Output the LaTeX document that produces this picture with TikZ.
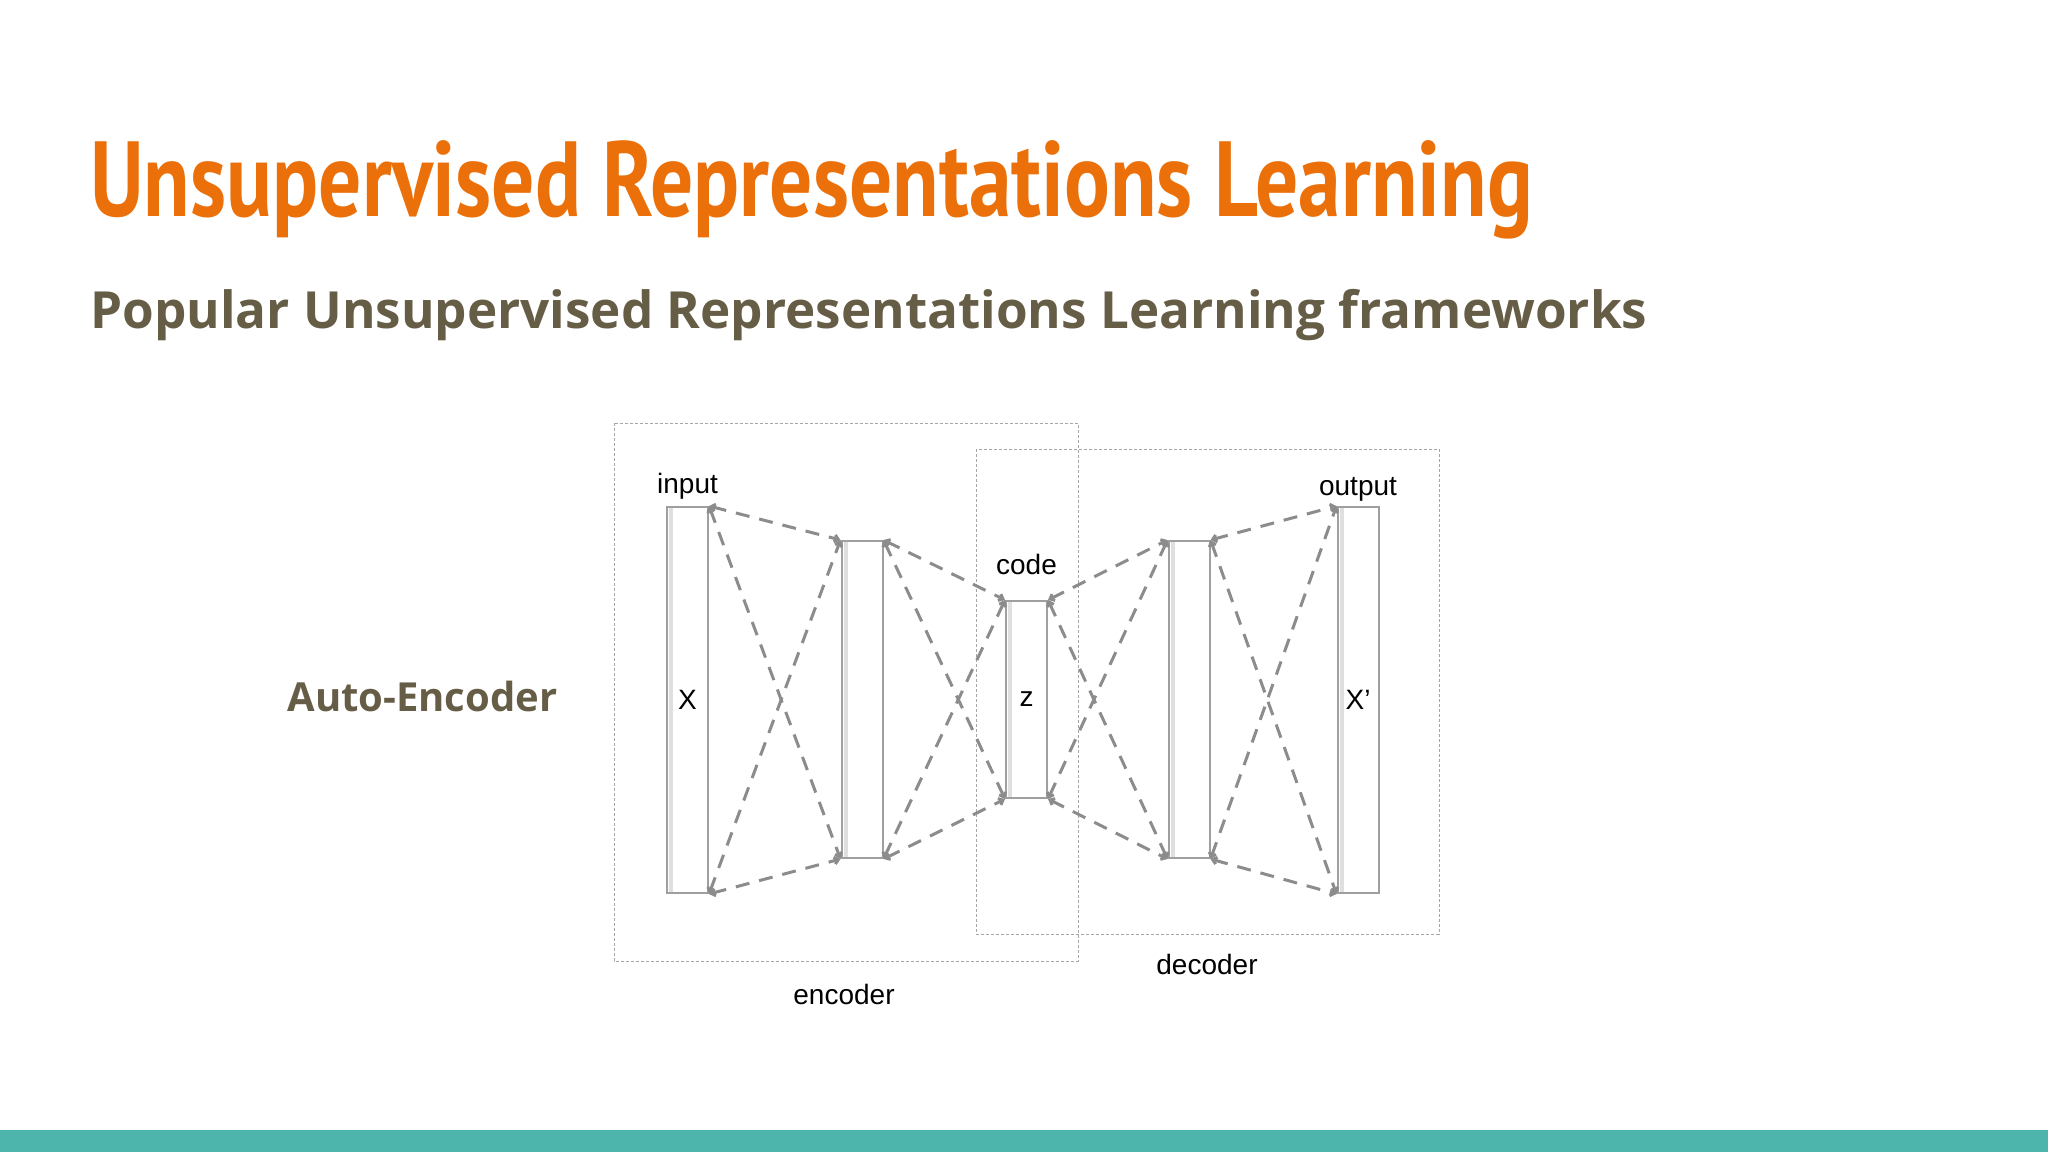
\documentclass[tikz,border=0pt]{standalone}
\usepackage{fontspec}
\usetikzlibrary{arrows.meta}
\setmainfont{Liberation Sans}
\newfontfamily\titlefont[FakeStretch=0.80]{PT Sans}
\newfontfamily\subfont{Open Sans}
\definecolor{titleorange}{RGB}{235,112,10}
\definecolor{subolive}{RGB}{102,93,70}
\definecolor{barteal}{RGB}{77,181,172}
\definecolor{linegray}{RGB}{140,140,140}

\begin{document}
\begin{tikzpicture}[x=0.5pt,y=-0.5pt,
    layer/.style={rectangle,draw=gray!75,line width=1pt,fill=white,minimum width=20.5pt,inner sep=0pt,font=\fontsize{14}{16}\selectfont,
        path picture={\draw[gray!25,line width=2pt] ([xshift=2pt]path picture bounding box.north west) -- ([xshift=2pt]path picture bounding box.south west);}},
    link/.style={linegray,line width=1.5pt,dash pattern=on 7pt off 5pt,{Straight Barb[length=2pt,width=3.5pt]}-{Straight Barb[length=2pt,width=3.5pt]}},
    groupbox/.style={draw=gray!70,line width=0.5pt,dash pattern=on 1.5pt off 1pt},
    lbl/.style={font=\fontsize{14}{16}\selectfont}]
  \useasboundingbox (0,0) rectangle (2048,1152);
  \fill[white] (0,0) rectangle (2048,1152);
  \fill[barteal] (0,1130) rectangle (2048,1152);

  % headings
  \node[anchor=base west,inner sep=0pt,text=titleorange,font=\titlefont\bfseries\fontsize{53.4}{60}\selectfont] (title) at (90,216) {Unsupervised Representations Learning};
  \node[anchor=base west,inner sep=0pt,text=subolive,font=\subfont\bfseries\fontsize{25.6}{30}\selectfont] (subtitle) at (90,328) {Popular Unsupervised Representations Learning frameworks};
  \node[anchor=base west,inner sep=0pt,text=subolive,font=\subfont\bfseries\fontsize{20}{24}\selectfont] (ae) at (287,711) {Auto-Encoder};

  % encoder / decoder groups
  \draw[groupbox] (614,423) rectangle (1078,961);
  \draw[groupbox] (976,449) rectangle (1439,934);
  \node[lbl] (enc) at (844,994) {encoder};
  \node[lbl] (dec) at (1207,964) {decoder};

  % layers
  \node[layer,minimum height=193pt] (in) at (687.5,700) {X};
  \node[layer,minimum height=158.5pt] (h1) at (862,699.5) {};
  \node[layer,minimum height=98.5pt,text depth=-3pt] (code) at (1026.5,699.5) {z};
  \node[layer,minimum height=158.5pt] (h2) at (1189,699.5) {};
  \node[layer,minimum height=193pt] (out) at (1358,700) {X’};

  \node[lbl,above=0pt] at (in.north) {input};
  \node[lbl,above=9pt] at (code.north) {code};
  \node[lbl,above=-1pt] at (out.north) {output};

  % fully connected links
  \foreach \a/\b in {in/h1,h1/code,code/h2,h2/out}{
    \draw[link] (\a.north east) -- (\b.north west);
    \draw[link] (\a.south east) -- (\b.south west);
    \draw[link] (\a.north east) -- (\b.south west);
    \draw[link] (\a.south east) -- (\b.north west);
  }
\end{tikzpicture}
\end{document}
